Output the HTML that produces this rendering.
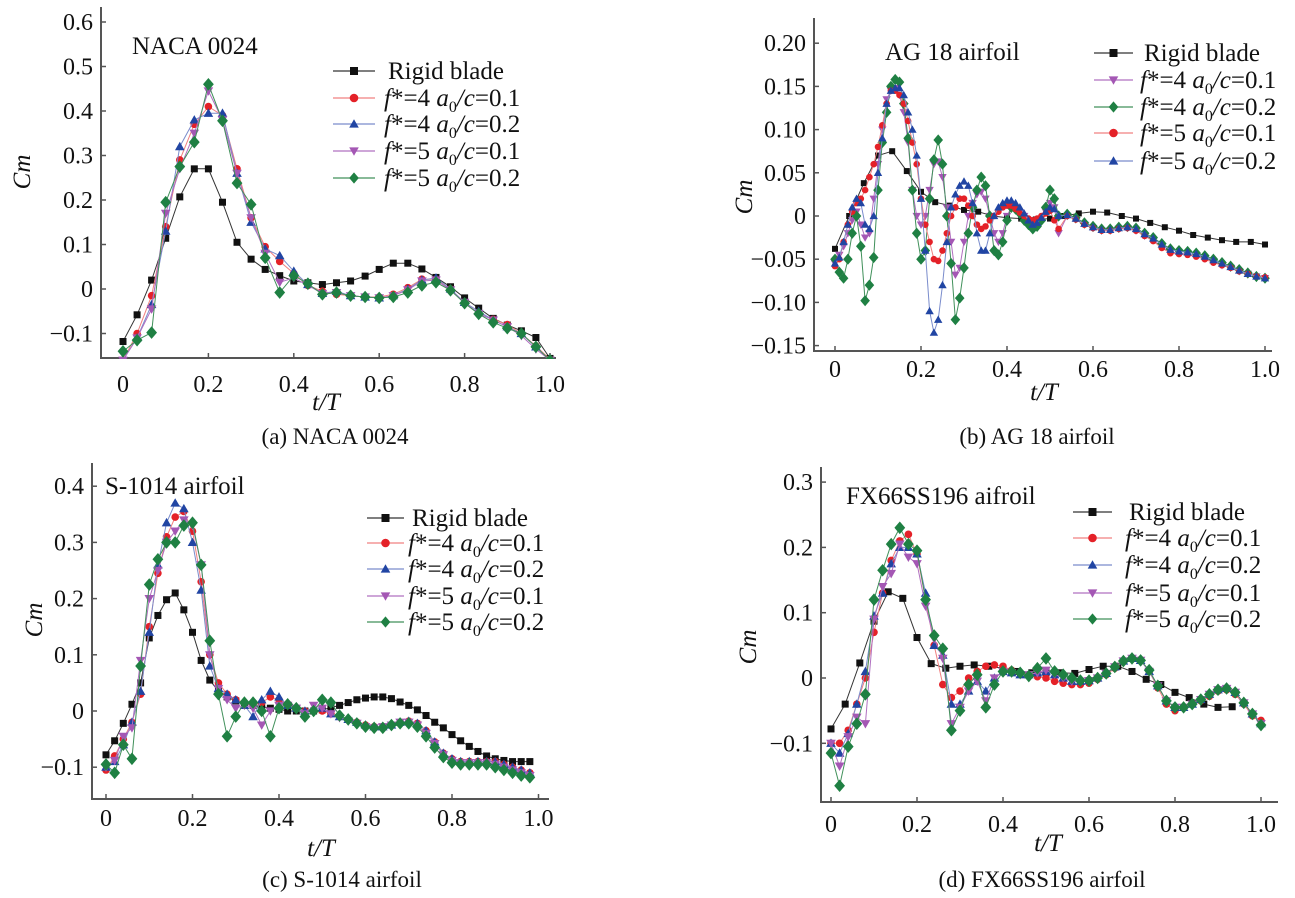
<!DOCTYPE html>
<html><head><meta charset="utf-8"><style>
html,body{margin:0;padding:0;background:#fff;}
svg{display:block;}
text{font-family:"Liberation Serif",serif;fill:#111;}
</style></head><body>
<svg id="fig" width="1295" height="898" viewBox="0 0 1295 898" xmlns="http://www.w3.org/2000/svg"></svg>
<script>
// ---------- Panel (a) NACA 0024 ----------
const tA = [0,.033,.067,.1,.133,.167,.2,.233,.267,.3,.333,.367,.4,.433,.467,.5,.533,.567,.6,.633,.667,.7,.733,.767,.8,.833,.867,.9,.933,.967,1.0];
const aRigid = [-0.118,-0.058,0.02,0.114,0.207,0.27,0.27,0.195,0.105,0.067,0.044,0.03,0.018,0.014,0.01,0.014,0.018,0.029,0.044,0.058,0.058,0.045,0.026,0.005,-0.02,-0.043,-0.066,-0.081,-0.094,-0.109,-0.156];
const aF4a1 = [-0.16,-0.1,-0.015,0.14,0.29,0.37,0.41,0.39,0.27,0.16,0.095,0.062,0.035,0.008,-0.005,-0.012,-0.015,-0.018,-0.018,-0.012,0.003,0.022,0.022,0.0,-0.032,-0.055,-0.068,-0.08,-0.1,-0.128,-0.158];
const aF4a2 = [-0.16,-0.11,-0.035,0.13,0.32,0.38,0.395,0.395,0.26,0.15,0.09,0.075,0.04,0.01,-0.01,-0.005,-0.015,-0.018,-0.02,-0.015,0.0,0.02,0.025,0.0,-0.03,-0.05,-0.07,-0.085,-0.1,-0.13,-0.16];
const aF5a1 = [-0.16,-0.11,-0.045,0.17,0.27,0.35,0.445,0.38,0.26,0.16,0.08,0.015,0.025,0.008,-0.01,-0.008,-0.015,-0.018,-0.02,-0.015,-0.002,0.018,0.02,-0.002,-0.03,-0.055,-0.07,-0.085,-0.105,-0.135,-0.16];
const aF5a2 = [-0.14,-0.115,-0.098,0.195,0.275,0.33,0.46,0.378,0.238,0.19,0.07,-0.008,0.03,0.012,-0.012,-0.008,-0.015,-0.018,-0.02,-0.018,-0.008,0.008,0.015,-0.003,-0.032,-0.056,-0.075,-0.088,-0.1,-0.13,-0.16];
const aYTicks = [0.6,0.5,0.4,0.3,0.2,0.1,0,-0.1];
const aYLabels = ["0.6","0.5","0.4","0.3","0.2","0.1","0","\u22120.1"];

// ---------- Panel (b) AG 18 ----------
const tBRigid = [0,.033,.067,.1,.133,.167,.2,.233,.267,.3,.333,.367,.4,.433,.467,.5,.533,.567,.6,.633,.667,.7,.733,.767,.8,.833,.867,.9,.933,.967,1.0];
const bRigid = [-0.038,0.0,0.038,0.07,0.075,0.052,0.028,0.016,0.012,0.007,0.005,0.0,-0.002,-0.003,-0.004,-0.003,0.0,0.003,0.005,0.004,0.0,-0.003,-0.008,-0.013,-0.017,-0.022,-0.025,-0.028,-0.03,-0.03,-0.033];
const tB = [0,.01,.02,.03,.04,.05,.06,.07,.08,.09,.10,.11,.12,.13,.14,.15,.16,.17,.18,.19,.20,.21,.22,.23,.24,.25,.26,.27,.28,.29,.30,.31,.32,.33,.34,.35,.36,.37,.38,.39,.40,.41,.42,.43,.44,.45,.46,.47,.48,.49,.50,.51,.52,.54,.56,.58,.60,.62,.64,.66,.68,.70,.72,.74,.76,.78,.80,.82,.84,.86,.88,.90,.92,.94,.96,.98,1.0];
const bF4a1 = [-0.055,-0.045,-0.035,-0.02,-0.005,0.005,-0.01,-0.025,-0.02,0.02,0.06,0.1,0.135,0.145,0.148,0.14,0.12,0.085,0.03,0.0,-0.01,0.0,0.03,0.06,0.063,0.045,0.01,-0.03,-0.068,-0.06,-0.03,0.0,0.015,0.025,0.028,0.02,0.0,-0.02,-0.03,-0.02,0.0,0.01,0.008,0.004,0.0,-0.005,-0.01,-0.008,-0.003,0.005,0.015,0.01,-0.02,
  0.0,-0.004,-0.01,-0.014,-0.017,-0.017,-0.015,-0.014,-0.017,-0.023,-0.028,-0.036,-0.042,-0.043,-0.044,-0.046,-0.049,-0.053,-0.057,-0.06,-0.064,-0.067,-0.07,-0.072];
const bF4a2 = [-0.05,-0.065,-0.072,-0.05,-0.02,0.0,-0.035,-0.098,-0.08,-0.048,0.03,0.085,0.12,0.15,0.158,0.155,0.13,0.09,0.03,-0.02,-0.05,-0.04,0.02,0.065,0.088,0.06,0.0,-0.055,-0.12,-0.095,-0.06,-0.02,0.01,0.03,0.045,0.035,0.0,-0.04,-0.045,-0.03,-0.005,0.01,0.008,0.003,-0.005,-0.01,-0.015,-0.012,-0.005,0.01,0.03,0.02,0.0,
  0.002,-0.002,-0.008,-0.012,-0.015,-0.015,-0.013,-0.012,-0.014,-0.02,-0.025,-0.032,-0.038,-0.04,-0.041,-0.043,-0.046,-0.05,-0.054,-0.058,-0.062,-0.066,-0.07,-0.072];
const bF5a1 = [-0.058,-0.05,-0.03,-0.01,0.005,0.015,0.02,0.03,0.045,0.06,0.08,0.105,0.13,0.145,0.145,0.14,0.13,0.11,0.085,0.06,0.02,-0.01,-0.03,-0.05,-0.052,-0.04,-0.02,0.0,0.01,0.02,0.02,0.012,0.0,-0.01,-0.015,-0.012,-0.005,0.0,0.005,0.01,0.012,0.012,0.008,0.004,0.0,-0.003,-0.005,-0.003,0.0,0.003,0.006,-0.005,-0.015,
  0.0,-0.004,-0.01,-0.014,-0.017,-0.017,-0.015,-0.014,-0.017,-0.023,-0.029,-0.037,-0.043,-0.044,-0.045,-0.047,-0.05,-0.054,-0.057,-0.06,-0.064,-0.067,-0.07,-0.071];
const bF5a2 = [-0.055,-0.048,-0.03,-0.01,0.01,0.02,0.015,-0.01,-0.015,0.0,0.05,0.09,0.13,0.145,0.148,0.148,0.14,0.12,0.1,0.07,0.02,-0.04,-0.11,-0.135,-0.12,-0.08,-0.03,0.01,0.025,0.035,0.04,0.035,0.015,-0.02,-0.04,-0.04,-0.02,0.0,0.01,0.015,0.018,0.018,0.015,0.01,0.003,-0.005,-0.01,-0.008,-0.002,0.005,0.01,0.008,0.0,
  0.001,-0.003,-0.009,-0.013,-0.016,-0.016,-0.014,-0.013,-0.015,-0.021,-0.026,-0.033,-0.039,-0.041,-0.042,-0.044,-0.047,-0.051,-0.055,-0.059,-0.063,-0.067,-0.07,-0.072];
const bYTicks = [0.2,0.15,0.1,0.05,0,-0.05,-0.1,-0.15];
const bYLabels = ["0.20","0.15","0.10","0.05","0","\u22120.05","\u22120.10","\u22120.15"];

// ---------- Panel (c) S-1014 ----------
const tC = [0,.02,.04,.06,.08,.10,.12,.14,.16,.18,.20,.22,.24,.26,.28,.30,.32,.34,.36,.38,.40,.42,.44,.46,.48,.50,.52,.54,.56,.58,.60,.62,.64,.66,.68,.70,.72,.74,.76,.78,.80,.82,.84,.86,.88,.90,.92,.94,.96,.98];
const cRigid = [-0.078,-0.053,-0.022,0.012,0.05,0.13,0.17,0.198,0.21,0.18,0.14,0.09,0.055,0.035,0.025,0.018,0.012,0.01,0.008,0.005,0.003,0.0,0.0,0.0,0.0,0.002,0.006,0.01,0.015,0.02,0.023,0.025,0.025,0.022,0.016,0.01,0.002,-0.008,-0.02,-0.03,-0.042,-0.053,-0.063,-0.072,-0.08,-0.085,-0.088,-0.09,-0.09,-0.09];
const cF4a1 = [-0.105,-0.08,-0.05,-0.02,0.03,0.15,0.245,0.31,0.345,0.355,0.32,0.23,0.1,0.05,0.03,0.02,0.015,0.01,0.015,0.025,0.02,0.012,0.005,0.0,0.0,0.0,-0.005,-0.01,-0.015,-0.02,-0.025,-0.028,-0.028,-0.025,-0.02,-0.018,-0.022,-0.035,-0.055,-0.075,-0.085,-0.09,-0.09,-0.09,-0.09,-0.09,-0.095,-0.1,-0.105,-0.11];
const cF4a2 = [-0.1,-0.09,-0.06,-0.02,0.035,0.14,0.26,0.335,0.37,0.36,0.3,0.215,0.08,0.04,0.03,0.02,0.01,-0.01,0.02,0.035,0.025,0.01,0.005,0.0,0.005,0.005,-0.005,-0.01,-0.015,-0.02,-0.025,-0.028,-0.028,-0.025,-0.02,-0.018,-0.022,-0.035,-0.055,-0.075,-0.085,-0.09,-0.09,-0.09,-0.09,-0.09,-0.095,-0.1,-0.105,-0.11];
const cF5a1 = [-0.1,-0.088,-0.045,-0.03,0.09,0.2,0.25,0.3,0.32,0.34,0.33,0.26,0.1,0.04,0.02,0.005,0.01,0.005,-0.025,0.0,0.01,0.01,0.005,-0.005,0.01,0.005,-0.005,-0.012,-0.018,-0.022,-0.028,-0.03,-0.028,-0.025,-0.02,-0.02,-0.025,-0.04,-0.058,-0.078,-0.088,-0.092,-0.092,-0.092,-0.092,-0.095,-0.1,-0.105,-0.11,-0.115];
const cF5a2 = [-0.095,-0.11,-0.06,-0.085,0.08,0.225,0.27,0.3,0.3,0.33,0.335,0.26,0.125,0.03,-0.045,-0.01,0.015,0.015,0.0,-0.045,0.005,0.012,0.005,-0.01,0.0,0.02,0.015,-0.008,-0.015,-0.022,-0.028,-0.03,-0.03,-0.025,-0.022,-0.022,-0.028,-0.045,-0.065,-0.082,-0.092,-0.095,-0.095,-0.095,-0.095,-0.1,-0.105,-0.11,-0.115,-0.118];
const cYTicks = [0.4,0.3,0.2,0.1,0,-0.1];
const cYLabels = ["0.4","0.3","0.2","0.1","0","\u22120.1"];

// ---------- Panel (d) FX66SS196 ----------
const tDRigid = [0,.033,.067,.1,.133,.167,.2,.233,.267,.3,.333,.367,.4,.433,.467,.5,.533,.567,.6,.633,.667,.7,.733,.767,.8,.833,.867,.9,.933];
const dRigid = [-0.078,-0.04,0.023,0.087,0.132,0.122,0.062,0.022,0.015,0.018,0.02,0.018,0.015,0.01,0.008,0.008,0.008,0.007,0.013,0.018,0.018,0.01,-0.002,-0.01,-0.022,-0.03,-0.04,-0.045,-0.044];
const tD = [0,.02,.04,.06,.08,.10,.12,.14,.16,.18,.20,.22,.24,.26,.28,.30,.32,.34,.36,.38,.40,.42,.44,.46,.48,.50,.52,.54,.56,.58,.60,.62,.64,.66,.68,.70,.72,.74,.76,.78,.80,.82,.84,.86,.88,.90,.92,.94,.96,.98,1.0];
const dF4a1 = [-0.1,-0.1,-0.08,-0.04,0.0,0.07,0.13,0.18,0.21,0.22,0.19,0.12,0.05,-0.01,-0.03,-0.02,0.0,0.01,0.018,0.02,0.018,0.012,0.008,0.005,0.002,0.0,-0.005,-0.008,-0.01,-0.01,-0.008,-0.002,0.005,0.015,0.025,0.03,0.028,0.01,-0.015,-0.04,-0.05,-0.045,-0.04,-0.035,-0.028,-0.02,-0.018,-0.025,-0.04,-0.058,-0.065];
const dF4a2 = [-0.1,-0.115,-0.085,-0.04,0.01,0.095,0.13,0.175,0.2,0.2,0.19,0.13,0.05,0.035,-0.04,-0.04,-0.02,-0.005,-0.02,0.0,0.01,0.008,0.005,0.005,0.008,0.01,0.005,0.0,-0.005,-0.005,-0.004,0.0,0.007,0.017,0.026,0.03,0.027,0.01,-0.012,-0.035,-0.045,-0.045,-0.04,-0.033,-0.025,-0.018,-0.016,-0.022,-0.038,-0.055,-0.07];
const dF5a1 = [-0.1,-0.135,-0.09,-0.06,-0.07,0.09,0.14,0.16,0.205,0.185,0.175,0.11,0.06,0.03,-0.07,-0.045,-0.02,-0.005,-0.035,0.0,0.01,0.008,0.005,0.005,0.008,0.012,0.006,0.0,-0.005,-0.005,-0.004,0.0,0.007,0.017,0.026,0.03,0.027,0.01,-0.012,-0.035,-0.045,-0.045,-0.04,-0.033,-0.025,-0.018,-0.016,-0.022,-0.038,-0.055,-0.07];
const dF5a2 = [-0.115,-0.165,-0.105,-0.07,-0.025,0.12,0.165,0.205,0.23,0.205,0.195,0.12,0.065,0.045,-0.08,-0.05,-0.01,0.005,-0.045,-0.01,0.01,0.01,0.008,0.003,0.015,0.03,0.01,0.005,0.0,-0.004,-0.004,0.0,0.007,0.017,0.026,0.03,0.027,0.012,-0.012,-0.035,-0.045,-0.045,-0.04,-0.033,-0.025,-0.018,-0.016,-0.022,-0.038,-0.055,-0.072];
const dYTicks = [0.3,0.2,0.1,0,-0.1];
const dYLabels = ["0.3","0.2","0.1","0","\u22120.1"];

const xTicks = [0,0.2,0.4,0.6,0.8,1.0];
const xLabels = ["0","0.2","0.4","0.6","0.8","1.0"];

const NS = "http://www.w3.org/2000/svg";
const svg = document.getElementById('fig');
function mk(tag, attrs, parent){ const e=document.createElementNS(NS,tag); for(const k in attrs) e.setAttribute(k,attrs[k]); (parent||svg).appendChild(e); return e; }

const COL = {black:'#111', red:'#e42128', blue:'#2145a3', purple:'#a457b4', green:'#1f8043'};
const LINE = {black:'#333', red:'#f08080', blue:'#7a8ccc', purple:'#b070c0', green:'#40905a'};

function marker(g, shape, cx, cy, color, s){
  let e;
  if(shape==='square') e=mk('rect',{x:cx-s/2,y:cy-s/2,width:s,height:s,fill:color},g);
  else if(shape==='circle') e=mk('circle',{cx:cx,cy:cy,r:s/2+0.3,fill:color},g);
  else if(shape==='up') e=mk('polygon',{points:`${cx},${cy-s*0.6} ${cx-s*0.6},${cy+s*0.45} ${cx+s*0.6},${cy+s*0.45}`,fill:color},g);
  else if(shape==='down') e=mk('polygon',{points:`${cx},${cy+s*0.6} ${cx-s*0.6},${cy-s*0.45} ${cx+s*0.6},${cy-s*0.45}`,fill:color},g);
  else e=mk('polygon',{points:`${cx},${cy-s*0.7} ${cx+s*0.6},${cy} ${cx},${cy+s*0.7} ${cx-s*0.6},${cy}`,fill:color},g);
  return e;
}

function legendLabel(g, x, y, lbl){
  const t=mk('text',{x:x,y:y,'font-size':25},g);
  if(lbl.rigid){ t.textContent='Rigid blade'; return t; }
  const a=mk('tspan',{'font-style':'italic'},t); a.textContent='f';
  const b=mk('tspan',{},t); b.textContent='*='+lbl.f+' ';
  const c=mk('tspan',{'font-style':'italic'},t); c.textContent='a';
  const d=mk('tspan',{'font-size':16,dy:6},t); d.textContent='0';
  const e=mk('tspan',{'font-style':'italic',dy:-6},t); e.textContent='/c';
  const f=mk('tspan',{},t); f.textContent='='+lbl.a;
  return t;
}

function panel(cfg){
  const g=mk('g',{});
  
  
  const X=t=>cfg.x0+t*(cfg.x1-cfg.x0);
  const Y=v=>cfg.yz+v*cfg.ys;
  const B=cfg.box;
  const clipId='clip-'+cfg.name;
  const cp=mk('clipPath',{id:clipId},g);
  mk('rect',{x:B[0],y:B[1]-8,width:B[2]-B[0]+8,height:B[3]-B[1]+9},cp);
  const ax=mk('path',{d:`M${B[0]},${B[1]} V${B[3]} H${B[2]}`,stroke:'#555','stroke-width':2,fill:'none'},g);
  
  
  cfg.yTicks.forEach((v,i)=>{
    const y=Y(v);
    mk('line',{x1:B[0],x2:B[0]+5,y1:y,y2:y,stroke:'#555','stroke-width':1.5},g);
    const tl=mk('text',{x:B[0]-8,y:y+8,'text-anchor':'end','font-size':24},g);
    tl.textContent=cfg.yLabels[i];
    
    
  });
  xTicks.forEach((v,i)=>{
    const x=X(v);
    mk('line',{x1:x,x2:x,y1:B[3],y2:B[3]-5,stroke:'#555','stroke-width':1.5},g);
    const tl=mk('text',{x:x,y:cfg.xLabY,'text-anchor':'middle','font-size':24},g);
    tl.textContent=xLabels[i];
    
    
  });
  const yt=mk('text',{x:0,y:0,'font-size':25,'font-style':'italic','text-anchor':'middle',transform:`translate(${cfg.yTitle[0]},${cfg.yTitle[1]}) rotate(-90)`},g);
  yt.textContent='Cm';
  
  
  const xt=mk('text',{x:cfg.xTitle[0],y:cfg.xTitle[1],'font-size':25,'font-style':'italic','text-anchor':'middle'},g);
  xt.textContent='t/T';
  
  
  const ti=mk('text',{x:cfg.title[0],y:cfg.title[1],'font-size':25},g);
  ti.textContent=cfg.titleText;
  
  
  const ca=mk('text',{x:cfg.cap[0],y:cfg.cap[1],'font-size':23,'text-anchor':'middle'},g);
  ca.textContent=cfg.capText;
  
  
  const pg=mk('g',{'clip-path':`url(#${clipId})`},g);
  cfg.series.forEach(s=>{
    const sg=mk('g',{},pg);
    
    
    const pts=s.t.map((t,i)=>X(t).toFixed(1)+','+Y(s.v[i]).toFixed(1)).join(' ');
    const pl=mk('polyline',{points:pts,fill:'none',stroke:LINE[s.color],'stroke-width':1},sg);
    
    
    s.t.forEach((t,i)=>{
      const m=marker(sg,s.shape,X(t),Y(s.v[i]),COL[s.color],s.size);
      
      
    });
  });
  cfg.series.forEach((s,i)=>{
    const y=cfg.leg.rows[i];
    const lg=mk('g',{},g);
    
    
    mk('line',{x1:cfg.leg.x0,x2:cfg.leg.x1,y1:y,y2:y,stroke:LINE[s.color],'stroke-width':1.2},lg);
    marker(lg,s.shape,(cfg.leg.x0+cfg.leg.x1)/2,y,COL[s.color],8);
    legendLabel(lg, s.lbl.rigid?cfg.leg.tx+4:cfg.leg.tx, y+8, s.lbl);
  });
}

const L = {
  rigid:{rigid:true}, f4a1:{f:4,a:'0.1'}, f4a2:{f:4,a:'0.2'}, f5a1:{f:5,a:'0.1'}, f5a2:{f:5,a:'0.2'}
};

panel({name:'panel-a', x0:123, x1:550, yz:289, ys:-445, box:[101,7,556,358],
  yTicks:aYTicks, yLabels:aYLabels, xLabY:392, yTitle:[30,172], xTitle:[326,410],
  title:[132,54], titleText:'NACA 0024', cap:[335,444], capText:'(a) NACA 0024',
  leg:{x0:333,x1:375,tx:384,rows:[71,98,124,151,178]},
  series:[
    {key:'rigid',t:tA,v:aRigid,color:'black',shape:'square',size:7,lbl:L.rigid},
    {key:'f4-a0.1',t:tA,v:aF4a1,color:'red',shape:'circle',size:7,lbl:L.f4a1},
    {key:'f4-a0.2',t:tA,v:aF4a2,color:'blue',shape:'up',size:8,lbl:L.f4a2},
    {key:'f5-a0.1',t:tA,v:aF5a1,color:'purple',shape:'down',size:8,lbl:L.f5a1},
    {key:'f5-a0.2',t:tA,v:aF5a2,color:'green',shape:'diamond',size:9,lbl:L.f5a2}
  ]});

panel({name:'panel-b', x0:835, x1:1265, yz:216, ys:-864, box:[814,18,1272,351],
  yTicks:bYTicks, yLabels:bYLabels, xLabY:377, yTitle:[752,197], xTitle:[1044,400],
  title:[885,60], titleText:'AG 18 airfoil', cap:[1037,444], capText:'(b) AG 18 airfoil',
  leg:{x0:1094,x1:1133,tx:1140,rows:[53,80,107,133,161]},
  series:[
    {key:'rigid',t:tBRigid,v:bRigid,color:'black',shape:'square',size:6,lbl:L.rigid},
    {key:'f4-a0.1',t:tB,v:bF4a1,color:'purple',shape:'down',size:7,lbl:L.f4a1},
    {key:'f4-a0.2',t:tB,v:bF4a2,color:'green',shape:'diamond',size:8,lbl:L.f4a2},
    {key:'f5-a0.1',t:tB,v:bF5a1,color:'red',shape:'circle',size:6,lbl:L.f5a1},
    {key:'f5-a0.2',t:tB,v:bF5a2,color:'blue',shape:'up',size:7,lbl:L.f5a2}
  ]});

panel({name:'panel-c', x0:106, x1:538.5, yz:711, ys:-562, box:[92,463,549,799],
  yTicks:cYTicks, yLabels:cYLabels, xLabY:826, yTitle:[42,620], xTitle:[321,856],
  title:[105,494], titleText:'S-1014 airfoil', cap:[342,887], capText:'(c) S-1014 airfoil',
  leg:{x0:367,x1:404,tx:408,rows:[518,543,569,596,622]},
  series:[
    {key:'rigid',t:tC,v:cRigid,color:'black',shape:'square',size:7,lbl:L.rigid},
    {key:'f4-a0.1',t:tC,v:cF4a1,color:'red',shape:'circle',size:7,lbl:L.f4a1},
    {key:'f4-a0.2',t:tC,v:cF4a2,color:'blue',shape:'up',size:8,lbl:L.f4a2},
    {key:'f5-a0.1',t:tC,v:cF5a1,color:'purple',shape:'down',size:8,lbl:L.f5a1},
    {key:'f5-a0.2',t:tC,v:cF5a2,color:'green',shape:'diamond',size:9,lbl:L.f5a2}
  ]});

panel({name:'panel-d', x0:831, x1:1261, yz:678, ys:-653, box:[821,467,1278,802],
  yTicks:dYTicks, yLabels:dYLabels, xLabY:832, yTitle:[756,647], xTitle:[1048,851],
  title:[846,504], titleText:'FX66SS196 aifroil', cap:[1042,887], capText:'(d) FX66SS196 airfoil',
  leg:{x0:1073,x1:1112,tx:1125,rows:[512,538,565,593,619]},
  series:[
    {key:'rigid',t:tDRigid,v:dRigid,color:'black',shape:'square',size:7,lbl:L.rigid},
    {key:'f4-a0.1',t:tD,v:dF4a1,color:'red',shape:'circle',size:7,lbl:L.f4a1},
    {key:'f4-a0.2',t:tD,v:dF4a2,color:'blue',shape:'up',size:8,lbl:L.f4a2},
    {key:'f5-a0.1',t:tD,v:dF5a1,color:'purple',shape:'down',size:8,lbl:L.f5a1},
    {key:'f5-a0.2',t:tD,v:dF5a2,color:'green',shape:'diamond',size:9,lbl:L.f5a2}
  ]});
</script>
</body></html>
